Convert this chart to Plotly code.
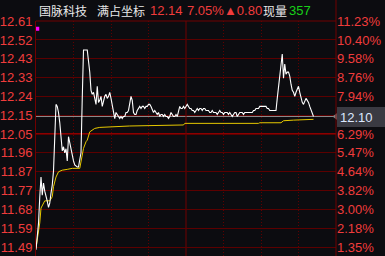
import plotly.graph_objects as go

# ---------------- data ----------------
prev_close = 11.34
last_price = 12.14
cursor_label = "12.10"

pct_levels = [11.23, 10.40, 9.58, 8.76, 7.94, 7.12, 6.29, 5.47, 4.64, 3.82, 3.00, 2.18, 1.35]
price_labels = ["12.61", "12.52", "12.43", "12.33", "12.24", "12.15", "12.05",
                "11.96", "11.87", "11.77", "11.68", "11.59", "11.49"]
pct_labels = ["11.23%", "10.40%", "9.58%", "8.76%", "7.94%", "", "6.29%",
              "5.47%", "4.64%", "3.82%", "3.00%", "2.18%", "1.35%"]

minute_ticks = [30, 60, 90, 150, 180, 210]
lunch_minute = 120

price_min = [0, 1, 2, 3, 4, 5, 6, 7, 8, 9, 10, 11, 12, 13, 14, 15, 16, 17, 18, 19,
             20, 21, 22, 23, 24, 25, 26, 28, 29, 30, 31, 33, 34, 35, 36, 37, 38, 41,
             42, 43, 44, 45, 46, 47, 48, 49, 50, 51, 52, 53, 54, 55, 56, 57, 58, 59,
             60, 61, 62, 63, 64, 65, 66, 67, 68, 69, 70, 71, 72, 73, 74, 75, 76, 77,
             78, 79, 80, 81, 82, 83, 84, 85, 86, 87, 88, 89, 90, 91, 92, 93, 94, 95,
             96, 97, 98, 99, 100, 101, 102, 103, 104, 105, 106, 107, 108, 109, 110,
             111, 112, 113, 114, 115, 116, 117, 118, 119, 120, 121, 122, 123, 124,
             125, 126, 127, 128, 129, 130, 131, 132, 133, 134, 135, 136, 137, 138,
             139, 140, 141, 142, 143, 144, 145, 146, 147, 148, 149, 150, 151, 152,
             153, 154, 155, 156, 157, 158, 159, 160, 161, 162, 163, 164, 165, 166,
             167, 168, 169, 170, 171, 172, 173, 174, 175, 176, 177, 178, 179, 180,
             181, 182, 183, 184, 185, 186, 187, 188, 189, 190, 191, 192, 193, 194,
             195, 196, 197, 198, 199, 200, 201, 202, 203, 204, 205, 206, 207, 208,
             209, 210, 211, 212, 213, 214, 215, 216, 217, 218, 219, 220, 221, 222]
price_val = [11.48, 11.54, 11.61, 11.74, 11.84, 11.75, 11.81, 11.77, 11.75, 11.72,
             11.69, 11.71, 11.76, 11.80, 11.87, 12.00, 12.20, 12.19, 12.16, 12.11,
             12.04, 11.97, 11.99, 11.96, 11.98, 11.92, 12.04, 11.97, 11.94, 11.92,
             11.90, 11.89, 11.89, 11.92, 11.96, 12.23, 12.47, 12.47,
             12.42, 12.36, 12.27, 12.25, 12.26, 12.23, 12.20, 12.29, 12.21, 12.22,
             12.24, 12.19, 12.22, 12.24, 12.25, 12.23, 12.24, 12.26,
             12.23, 12.19, 12.17, 12.13, 12.16, 12.15, 12.14, 12.13, 12.14, 12.13,
             12.14, 12.14, 12.16, 12.16, 12.17, 12.20, 12.24, 12.22,
             12.16, 12.15, 12.15, 12.17, 12.18, 12.19, 12.18, 12.19, 12.19, 12.18,
             12.19, 12.19, 12.20, 12.20, 12.19, 12.17, 12.16, 12.17,
             12.16, 12.15, 12.16, 12.14, 12.15, 12.15, 12.14, 12.15, 12.14, 12.14,
             12.13, 12.14, 12.16, 12.15, 12.14,
             12.14, 12.15, 12.14, 12.16, 12.19, 12.18, 12.18, 12.19, 12.18, 12.19,
             12.20, 12.19, 12.18, 12.18,
             12.17, 12.17, 12.16, 12.17, 12.18, 12.17, 12.18, 12.18, 12.17, 12.18,
             12.18, 12.17, 12.17, 12.17,
             12.16, 12.16, 12.17, 12.16, 12.16, 12.16, 12.15, 12.16, 12.17, 12.16,
             12.16, 12.15, 12.16, 12.16,
             12.16, 12.15, 12.16, 12.15, 12.14, 12.15, 12.16, 12.16, 12.14, 12.15,
             12.16, 12.16, 12.16, 12.15,
             12.16, 12.16, 12.16, 12.16, 12.16, 12.16, 12.16, 12.17, 12.17, 12.18,
             12.18, 12.18, 12.19, 12.19,
             12.19, 12.19, 12.19, 12.19, 12.18, 12.18, 12.17, 12.17, 12.17, 12.17,
             12.17, 12.17, 12.23, 12.28,
             12.34, 12.40, 12.45, 12.33, 12.40, 12.35, 12.36, 12.36, 12.34, 12.30,
             12.27, 12.26, 12.24, 12.26,
             12.28, 12.29, 12.26, 12.23, 12.21, 12.20, 12.22, 12.23, 12.22, 12.21,
             12.19, 12.17, 12.16, 12.14]

avg_min = [0, 1, 3, 4, 5, 7, 11, 13, 14, 16, 18, 21, 25, 29, 35, 37, 38, 40, 41, 43,
           47, 51, 59, 75, 118, 119, 178, 179, 196, 198, 206, 222]
avg_val = [11.488, 11.528, 11.612, 11.686, 11.700, 11.722, 11.722, 11.742, 11.792,
           11.840, 11.866, 11.874, 11.878, 11.883, 11.883, 11.940, 11.982, 12.015,
           12.023, 12.064, 12.081, 12.086, 12.089, 12.093, 12.098, 12.106, 12.106,
           12.109, 12.109, 12.119, 12.122, 12.126]

mark_min = [1]
mark_val = [12.575]

header_texts = ["国脉科技", "满占坐标", "12.14", "7.05%", "▲0.80", "现量", "357"]
header_x_px = [37, 95, 148, 185, 222, 261, 287]

# ---------------- styling ----------------
BG = "#0c0c10"
GRID = "#5c0000"
RED = "#f03c3c"
WHITE = "#e8e8e8"
GREEN = "#18d018"
W, H = 385, 256
L, R, T, B = 36, 49, 21, 0
plot_h = H - T - B
plot_w = W - L - R

levels = [prev_close * (1 + p / 100) for p in pct_levels]
px_per_price = (levels[-1] - levels[0]) / ((247 - 21))  # negative step per pixel
y_hi = levels[0]
y_lo = levels[0] + px_per_price * plot_h

fig = go.Figure()
fig.add_trace(go.Scatter(x=avg_min, y=avg_val, mode="lines",
                         line=dict(color="#e6c800", width=1), hoverinfo="skip"))
fig.add_trace(go.Scatter(x=price_min, y=price_val, mode="lines",
                         line=dict(color="#ffffff", width=1.1), hoverinfo="skip"))
fig.add_trace(go.Scatter(x=mark_min, y=mark_val, mode="markers",
                         marker=dict(color="#ff00ff", size=4, symbol="square"),
                         hoverinfo="skip"))
fig.add_trace(go.Scatter(x=[240], y=[last_price], mode="markers", yaxis="y2",
                         marker=dict(color="#808080", size=7, symbol="triangle-left"),
                         cliponaxis=False, hoverinfo="skip"))

shapes = [
    dict(type="line", xref="paper", x0=0, x1=1, yref="y", y0=last_price, y1=last_price,
         line=dict(color="#8a8a8a", width=1), layer="below"),
    dict(type="line", xref="paper", x0=0, x1=1, yref="y", y0=levels[6], y1=levels[6],
         line=dict(color="#8c0000", width=2), layer="below"),
    dict(type="line", xref="x", x0=lunch_minute, x1=lunch_minute, yref="paper", y0=0, y1=1,
         line=dict(color="#700000", width=1), layer="below"),
    dict(type="line", xref="paper", x0=0, x1=1, yref="paper", y0=1, y1=1,
         line=dict(color="#700000", width=1)),
    dict(type="line", xref="paper", x0=1, x1=1, yref="paper", y0=0, y1=1 + T / plot_h,
         line=dict(color="#700000", width=1)),
]

annotations = []
for txt, xp in zip(header_texts, header_x_px):
    if txt in ("国脉科技", "满占坐标", "现量"):
        col, fam, sz = WHITE, "Noto Sans CJK SC", 12
    elif txt == "357":
        col, fam, sz = GREEN, "Liberation Sans", 13
    else:
        col, fam, sz = RED, "Liberation Sans", 13
    annotations.append(dict(text=txt, xref="paper", yref="paper",
                            x=(xp - L) / plot_w, y=1 + (T - 11) / plot_h,
                            xanchor="left", yanchor="middle", showarrow=False,
                            font=dict(color=col, family=fam, size=sz)))
annotations.append(dict(text=cursor_label, xref="paper", yref="y", x=1 + 1 / plot_w,
                        y=last_price, xanchor="left", yanchor="middle", showarrow=False,
                        bgcolor="#3a3a42", bordercolor="#3a3a42", borderpad=2,
                        width=44, height=14, align="left",
                        font=dict(color="#dce8ff", family="Liberation Sans", size=13)))

fig.update_layout(
    width=W, height=H, margin=dict(l=L, r=R, t=T, b=B),
    paper_bgcolor=BG, plot_bgcolor=BG, showlegend=False,
    xaxis=dict(range=[0, 240], tickvals=minute_ticks, showgrid=True, gridcolor="#600000",
               griddash="1px,2px", gridwidth=1, showticklabels=False, zeroline=False,
               showline=False, fixedrange=True),
    yaxis=dict(range=[y_lo, y_hi], tickvals=levels, ticktext=price_labels,
               showgrid=True, gridcolor=GRID, gridwidth=1, zeroline=False,
               showline=True, linecolor="#700000", ticks="",
               tickfont=dict(color=RED, family="Liberation Sans", size=13)),
    yaxis2=dict(range=[y_lo, y_hi], overlaying="y", side="right", tickvals=levels,
                ticktext=pct_labels, showgrid=False, zeroline=False, showline=False,
                ticks="", tickfont=dict(color=RED, family="Liberation Sans", size=13)),
    shapes=shapes, annotations=annotations,
)

fig.write_html("out.html")
